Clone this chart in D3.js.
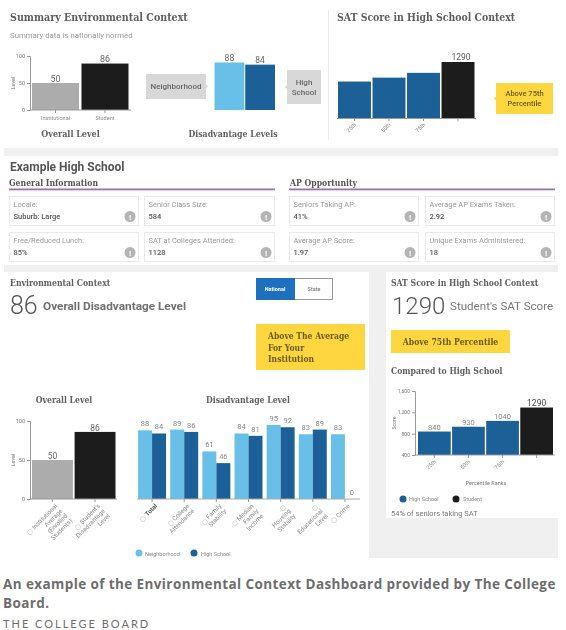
<!DOCTYPE html>
<html><head><meta charset="utf-8">
<script src="https://cdn.jsdelivr.net/npm/d3@7/dist/d3.min.js"></script>
<style>
html,body{margin:0;padding:0;background:#fff;width:566px;height:630px;overflow:hidden}
svg{display:block}
text{font-family:Roboto,sans-serif}
.slab{font-family:"DejaVu Serif Condensed","DejaVu Serif",serif;font-weight:700}
.axis path,.axis line{stroke:#999;stroke-width:1}
.axis text{fill:#777;font-family:Roboto,sans-serif}
</style></head><body>
<svg id="c" width="566" height="630"></svg>
<script>
const LIGHT="#68c0e8",DARK="#1c6198",BLACK="#1d1d1d",GREY="#acacac",YEL="#fdd63f",BOX="#d8d8d8";
const overallCats=["Institutional","Student"];
const overallVals=[50,86];
const summaryDisVals=[88,84];
const satCats=["25th","50th","75th","Student"];
const satVals=[840,930,1040,1290];
const satTicks=[400,800,1200,1600];
const levelTicks=[0,50,100];
const disLabels=[["Total"],["College","Attendance"],["Family","Stability"],["Median","Family","Income"],["","Housing","Stability"],["","Educational","Level"],["Crime"]];
const disNeighborhood=[88,89,61,84,95,83,83];
const disHighSchool=[84,86,46,81,92,89,0];
const overallLabels=[["Institutional","Average","(Enrolled","Students)"],["Student's","Disadvantage","Level"]];
const infoCards=[["Locale:","Suburb: Large"],["Senior Class Size:","584"],["Seniors Taking AP:","41%"],["Average AP Exams Taken:","2.92"],["Free/Reduced Lunch:","85%"],["SAT at Colleges Attended:","1128"],["Average AP Score:","1.97"],["Unique Exams Administered:","18"]];

const svg=d3.select("#c");
svg.append("defs").append("filter").attr("id","soft").attr("x",0).attr("y",0).attr("width",1).attr("height",1)
  .append("feGaussianBlur").attr("stdDeviation",0.45);
const root=svg.append("g").attr("filter","url(#soft)");

function rect(x0,y0,x1,y1,f,g=root){return g.append("rect").attr("x",x0).attr("y",y0).attr("width",x1-x0).attr("height",y1-y0).attr("fill",f);}
function txt(s,x,y,size,fill,o={},g=root){
  const t=g.append("text").attr("x",x).attr("y",y).attr("font-size",size).attr("fill",fill).text(s);
  if(o.cls)t.attr("class",o.cls);
  if(o.w)t.attr("font-weight",o.w);
  if(o.a)t.attr("text-anchor",o.a);
  return t;
}
function slab(s,x,y,size,fill="#5f5f5f",a){return txt(s,x,y,size,fill,{cls:"slab",a});}

// page panels
rect(4,0,558,558,"#f0f0f0");
rect(4,0,558,148,"#fff");
rect(4,156,558,265,"#fff");
rect(4,272,369,558,"#fff");
rect(386,272,558,518,"#fff");
rect(328,10,329,140,"#ececec");

function vAxis(g,y,x,ticks,size){
  const a=g.append("g").attr("class","axis").attr("transform",`translate(${x},0)`)
    .call(d3.axisLeft(y).tickValues(ticks).tickSize(3).tickPadding(2));
  a.selectAll("text").attr("font-size",size);
  return a;
}
function bars(g,data,x,y,color,base){
  g.selectAll(null).data(data).join("rect")
   .attr("x",d=>x(d.k)).attr("width",x.bandwidth())
   .attr("y",d=>y(d.v)).attr("height",d=>base-y(d.v)).attr("fill",d=>d.c);
}
function hLine(x0,x1,y,c="#999"){root.append("line").attr("x1",x0).attr("x2",x1).attr("y1",y).attr("y2",y).attr("stroke",c);}
function xTick(x,y){root.append("line").attr("x1",x).attr("x2",x).attr("y1",y).attr("y2",y+3).attr("stroke","#999");}
function rotLabel(lines,x,y,size,fill,lh,bold0){
  const g=root.append("g").attr("transform",`translate(${x},${y}) rotate(-45)`);
  lines.forEach((l,i)=>{
    const t=g.append("text").attr("text-anchor","end").attr("x",0).attr("y",i*lh+2).attr("font-size",size).attr("fill",fill);
    if(i===0)t.append("tspan").attr("font-size",size*0.8).attr("fill","#aaa").attr("font-weight",400).text(l?"◯ ":"◯");
    t.append("tspan").text(l);
    if(bold0)t.attr("font-weight",700);
  });
}
function callout(x0,y0,x1,y1,f,lines,size,color,cls,side){
  rect(x0,y0,x1,y1,f);
  const cy=(y0+y1)/2,tip=side==="right"?x1+2:x0-2,b=side==="right"?x1:x0;
  root.append("path").attr("d",`M${b},${cy-2}L${tip},${cy}L${b},${cy+2}Z`).attr("fill",f);
  lines.forEach((l,i)=>{
    const t=txt(l,(x0+x1)/2,cy+(i-(lines.length-1)/2)*(size+2)+size*0.35,size,color,{a:"middle",w:cls?null:500});
    if(cls)t.attr("class",cls);
  });
}

// ---- top summary
slab("Summary Environmental Context",10,21,10.6);
txt("Summary data is nationally normed",10,37.5,7.8,"#999");
{
  const y=d3.scaleLinear().domain([0,100]).range([110,56]);
  const x=d3.scaleBand().domain(overallCats).range([32,128.5]).paddingInner(0.05);
  bars(root,overallCats.map((k,i)=>({k,v:overallVals[i],c:i?BLACK:GREY})),x,y,null,110);
  vAxis(root,y,30,levelTicks,5.5);
  hLine(30,131,110);
  overallCats.forEach((k,i)=>{
    xTick(x(k)+x.bandwidth()/2,110);
    txt(k,x(k)+x.bandwidth()/2,119.5,5.5,"#888",{a:"middle"});
    txt(overallVals[i],x(k)+x.bandwidth()/2,y(overallVals[i])-1.5,9,"#666",{a:"middle"});
  });
  txt("Level",15,83,5.5,"#777",{a:"middle"}).attr("transform","rotate(-90 15 83)");
  slab("Overall Level",70.5,137,8.9,"#5f5f5f","middle");

  const k2=["Neighborhood","High School"];
  const x2=d3.scaleBand().domain(k2).range([214.5,275]).paddingInner(0.03);
  bars(root,k2.map((k,i)=>({k,v:summaryDisVals[i],c:i?DARK:LIGHT})),x2,y,null,110);
  k2.forEach((k,i)=>txt(summaryDisVals[i],x2(k)+x2.bandwidth()/2,y(summaryDisVals[i])-1.5,8.5,"#666",{a:"middle"}));
  callout(146,74,206,99,BOX,["Neighborhood"],8,"#666",null,"right");
  callout(287,70,321,104,BOX,["High","School"],8,"#666",null,"left");
  slab("Disadvantage Levels",233,137,8.7,"#5f5f5f","middle");
}
slab("SAT Score in High School Context",337,21,10.4);
{
  const y=d3.scaleLinear().domain([0,1290]).range([118,62]);
  const x=d3.scaleBand().domain(satCats).range([338,474.5]).paddingInner(0.045);
  bars(root,satCats.map((k,i)=>({k,v:satVals[i],c:i===3?BLACK:DARK})),x,y,null,118);
  hLine(337,476,118.5);
  satCats.forEach((k,i)=>{
    const cx=x(k)+x.bandwidth()/2;xTick(cx,118);
    if(i<3)root.append("text").attr("transform",`translate(${cx+2},125) rotate(-45)`).attr("text-anchor","end").attr("font-size",5.5).attr("fill","#888").text(k);
  });
  txt(satVals[3],x("Student")+x.bandwidth()/2+3,60,8.5,"#555",{a:"middle"});
  callout(496,83,553,114,YEL,["Above 75th","Percentile"],7.5,"#6b5a16",null,"left");
}

// ---- school info
txt("Example High School",10,171,12,"#555",{w:700});
slab("General Information",9,186,8.6,"#555");
slab("AP Opportunity",290,186,8.6,"#555");
rect(9,188.5,275,190.3,"#9a70ad");
rect(289,188.5,555,190.3,"#9a70ad");
{
  const colX=[[9,139],[144,275],[289,419],[425,555]],rowY=[[196,226],[232,262]];
  infoCards.forEach((c,i)=>{
    const [x0,x1]=colX[i%4],[y0,y1]=rowY[i<4?0:1];
    root.append("rect").attr("x",x0+.5).attr("y",y0+.5).attr("width",x1-x0-1).attr("height",y1-y0-1).attr("fill","#fff").attr("stroke","#eaeaea");
    txt(c[0],x0+4.5,y0+11,7.5,"#999");
    txt(c[1],x0+4.5,y0+23,7.5,"#555",{w:500});
    root.append("circle").attr("cx",x1-9).attr("cy",y0+20.5).attr("r",5.5).attr("fill","#b4b4b4");
    txt("!",x1-9,y0+23.5,8,"#fff",{a:"middle",w:700});
  });
}

// ---- environmental context
slab("Environmental Context",10,285.5,8.6,"#5f5f5f");
txt("86",10,314,25,"#555",{w:300});
txt("Overall Disadvantage Level",43,310,11.8,"#6f6f6f",{w:700});
rect(256,278,333,300,"#999");
rect(257,279,332,299,"#fff");
rect(256,278,295,300,"#1e6fbf");
txt("National",275,291,5.5,"#fff",{a:"middle",w:700});
txt("State",314,291,5.5,"#666",{a:"middle"});
rect(256,324,365,370,YEL);
["Above The Average","For Your","Institution"].forEach((s,i)=>slab(s,268,339+i*11.7,8.5,"#6b5a16"));

slab("Overall Level",64,403,8.6,"#5f5f5f","middle");
slab("Disadvantage Level",248,403,8.6,"#5f5f5f","middle");
{
  const y=d3.scaleLinear().domain([0,100]).range([499,421]);
  const x=d3.scaleBand().domain(overallCats).range([32,115.5]).paddingInner(0.04);
  bars(root,overallCats.map((k,i)=>({k,v:overallVals[i],c:i?BLACK:GREY})),x,y,null,499);
  vAxis(root,y,30,levelTicks,5.5).select("path").attr("stroke-width",1.2);
  hLine(30,117,499);
  overallCats.forEach((k,i)=>{
    const cx=x(k)+x.bandwidth()/2;xTick(cx,499);
    txt(overallVals[i],cx,y(overallVals[i])-1,8.5,"#666",{a:"middle"});
    rotLabel(overallLabels[i],cx+4,505,6.3,"#888",7);
  });
  txt("Level",15,460,5.5,"#777",{a:"middle"}).attr("transform","rotate(-90 15 460)");

  const x0=d3.scaleBand().domain(disLabels.map(d=>d.join(" "))).range([136,361]).paddingInner(0.13).paddingOuter(0.065);
  const sub=["Neighborhood","High School"];
  const x1=d3.scaleBand().domain(sub).range([0,x0.bandwidth()]);
  const g=root.append("g");
  disLabels.forEach((l,i)=>{
    const key=l.join(" "),gi=g.append("g").attr("transform",`translate(${x0(key)},0)`);
    const row=[disNeighborhood[i],disHighSchool[i]];
    sub.forEach((s,j)=>{
      gi.append("rect").attr("x",x1(s)).attr("width",x1.bandwidth()).attr("y",y(row[j])).attr("height",499-y(row[j])).attr("fill",j?DARK:LIGHT);
      gi.append("text").attr("x",x1(s)+x1.bandwidth()/2).attr("y",y(row[j])-4).attr("text-anchor","middle").attr("font-size",7.5).attr("fill","#888").text(row[j]);
    });
    const cx=x0(key)+x0.bandwidth()/2;
    xTick(cx,499);
    rotLabel(l,cx+4,505,6.3,i===0?"#555":"#888",7,i===0);
  });
  hLine(137,360,499,"#aaa");
}
root.append("circle").attr("cx",139).attr("cy",553).attr("r",3.5).attr("fill",LIGHT);
txt("Neighborhood",145,555.5,5.5,"#888");
root.append("circle").attr("cx",194).attr("cy",553).attr("r",3.5).attr("fill",DARK);
txt("High School",201,555.5,5.5,"#888");

// ---- SAT panel
slab("SAT Score in High School Context",391,286,8.6,"#5f5f5f");
txt("1290",392,314,24,"#555",{w:300});
txt("Student's SAT Score",450,310,11.6,"#777");
rect(391,330,510,353,YEL);
slab("Above 75th Percentile",450.5,344.5,8.6,"#6b5a16","middle");
slab("Compared to High School",391,374,8.6,"#5f5f5f");
{
  const y=d3.scaleLinear().domain([400,1600]).range([455,391]);
  const x=d3.scaleBand().domain(satCats).range([418,553]).paddingInner(0.04);
  bars(root,satCats.map((k,i)=>({k,v:satVals[i],c:i===3?BLACK:DARK})),x,y,null,455);
  vAxis(root,y,415,satTicks,5);
  hLine(415,555,455);
  satCats.forEach((k,i)=>{
    const cx=x(k)+x.bandwidth()/2;xTick(cx,455);
    if(i<3)root.append("text").attr("transform",`translate(${cx+2},462) rotate(-45)`).attr("text-anchor","end").attr("font-size",5.5).attr("fill","#888").text(k);
    txt(satVals[i],cx,y(satVals[i])-1.5,i===3?8.5:7.5,i===3?"#444":"#888",{a:"middle"});
  });
  txt("Score",396,423,5,"#777",{a:"middle"}).attr("transform","rotate(-90 396 423)");
  txt("Percentile Ranks",486,484.5,5.5,"#777",{a:"middle"});
}
root.append("circle").attr("cx",403).attr("cy",499).attr("r",3.5).attr("fill",DARK);
txt("High School",409,501,5.5,"#888");
root.append("circle").attr("cx",456).attr("cy",499).attr("r",3.5).attr("fill",BLACK);
txt("Student",463,501,5.5,"#888");
txt("54% of seniors taking SAT",391,516,7.5,"#777");

// ---- caption
const cap=svg.append("g");
txt("An example of the Environmental Context Dashboard provided by The College",3,589,13.5,"#6d6d6d",{w:700},cap).style("font-family","Open Sans").style("letter-spacing","0.4px");
txt("Board.",3,607.5,13.5,"#6d6d6d",{w:700},cap).style("font-family","Open Sans").style("letter-spacing","0.4px");
txt("THE COLLEGE BOARD",3,627.5,11,"#6d6d6d",{},cap).style("font-family","Lato").style("letter-spacing","2px");
</script></body></html>
